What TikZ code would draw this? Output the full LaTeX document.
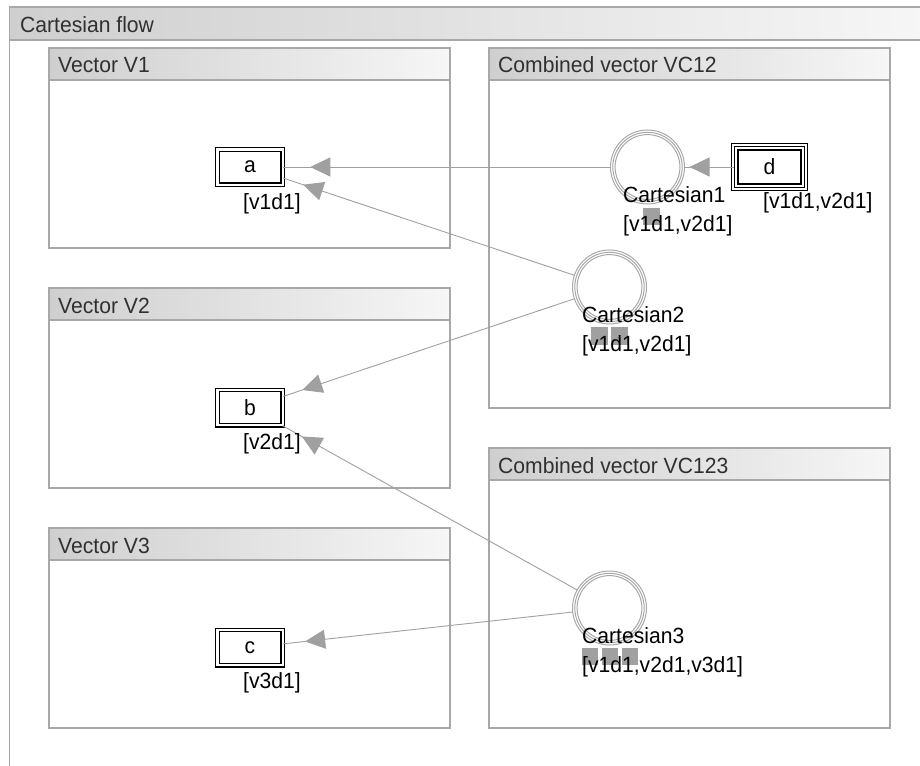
\documentclass[tikz,border=0pt]{standalone}
\usepackage{fontspec}
\setmainfont{Liberation Sans}[FakeStretch=0.96]
\usetikzlibrary{arrows.meta,decorations.markings}
\definecolor{framegray}{HTML}{A8A8A8}
\definecolor{hdrdark}{HTML}{CFCFCF}
\definecolor{hdrlight}{HTML}{F6F6F6}
\definecolor{linkgray}{HTML}{A0A0A0}
\definecolor{ringgray}{HTML}{A8A8A8}
\definecolor{slotgray}{HTML}{A0A0A0}
\definecolor{titletext}{HTML}{303030}
\begin{document}
\begin{tikzpicture}[x=1pt,y=-1pt,
  font=\fontsize{22}{26}\selectfont,
  panel/.style={draw=framegray, line width=1.3pt, fill=white},
  header/.style={draw=framegray, line width=1.3pt, left color=hdrdark, right color=hdrlight},
  title/.style={anchor=base west, inner sep=0pt, text=titletext},
  lab/.style={anchor=base west, inner sep=0pt},
  vnode/.style={draw=black, line width=1.2pt, double=white, double distance=2.3pt,
    minimum width=65.3pt, minimum height=35.3pt, inner sep=0pt, fill=white},
  dnode/.style={draw=black, line width=1.2pt, double=white, double distance=5.2pt,
    minimum width=69.4pt, minimum height=40.4pt, inner sep=0pt, fill=white},
  ring/.style={circle, draw=ringgray, line width=1pt, minimum size=74pt, inner sep=0pt},
  ringline/.style={draw=ringgray, line width=1pt},
  link/.style={draw=linkgray, line width=0.9pt},
  arrowat/.style={postaction={decorate}, decoration={markings,
    mark=at position #1 with {\arrow{Triangle[length=20pt,width=19pt,color=linkgray]}}}}
]
\useasboundingbox (0,0) rectangle (920,765);
\fill[white] (0,0) rectangle (920,765);

% outer frame
\shade[left color=hdrdark, right color=hdrlight] (9.5,7) rectangle (925,40);
\draw[framegray, line width=1.3pt] (925,7) -- (9.5,7) -- (9.5,770);
\draw[framegray, line width=1.3pt] (9.5,40) -- (925,40);
\node[title] (flowtitle) at (20,33) {Cartesian flow};

% panels
\newcommand{\panel}[6]{%
  \draw[panel] (#1,#2) rectangle (#3,#4);
  \draw[header] (#1,#2) rectangle (#3,#2+32);
  \node[title] (#6) at (#1+9,#2+25) {#5};
}
\panel{49}{48}{450}{248}{Vector V1}{pv1}
\panel{489}{48}{890}{408}{Combined vector VC12}{pvc12}
\panel{49}{288}{450}{488}{Vector V2}{pv2}
\panel{489}{448}{890}{728}{Combined vector VC123}{pvc123}
\panel{49}{528}{450}{728}{Vector V3}{pv3}

% value nodes
\node[vnode] (a) at (250,167) {a};
\node[vnode] (b) at (250,407.5) {b};
\node[vnode] (c) at (250,647.5) {c};
\node[dnode] (d) at (769.5,167) {d};
\draw[line width=1.2pt] (d.north west) rectangle (d.south east);

% cartesian nodes
\node[ring] (c1) at (647.5,167) {};
\node[ring] (c2) at (609.5,287) {};
\node[ring] (c3) at (609.5,608) {};
\foreach \n in {c1,c2,c3}{
  \draw[ringline] (\n.center) circle[radius=34.7pt];
  \draw[ringline] (\n.center) circle[radius=32.4pt];
}

% connectors
\draw[link, arrowat=-27pt] (c1) -- (a);
\draw[link, arrowat=-4.5pt] (d) -- (c1);
\draw[link, arrowat=-21pt] (c2) -- (a);
\draw[link, arrowat=-20pt] (c2) -- (b);
\draw[link, arrowat=-22pt] (c3) -- (b);
\draw[link, arrowat=-22pt] (c3) -- (c);

% slot markers
\fill[slotgray] (643,208) rectangle (660,225);
\fill[slotgray] (591,327) rectangle (608,345);
\fill[slotgray] (611,327) rectangle (628,345);
\fill[slotgray] (582,648) rectangle (598,665);
\fill[slotgray] (602,648) rectangle (618,665);
\fill[slotgray] (622,648) rectangle (638,665);

% labels
\node[lab] (alab) at (243,209) {[v1d1]};
\node[lab] (blab) at (243,449) {[v2d1]};
\node[lab] (clab) at (243,688) {[v3d1]};
\node[lab] (dlab) at (763,208) {[v1d1,v2d1]};
\node[lab] (c1name) at (623,202) {Cartesian1};
\node[lab] (c1slots) at (623,231) {[v1d1,v2d1]};
\node[lab] (c2name) at (582,322) {Cartesian2};
\node[lab] (c2slots) at (582,351) {[v1d1,v2d1]};
\node[lab] (c3name) at (582,643) {Cartesian3};
\node[lab] (c3slots) at (582,672) {[v1d1,v2d1,v3d1]};
\end{tikzpicture}
\end{document}
